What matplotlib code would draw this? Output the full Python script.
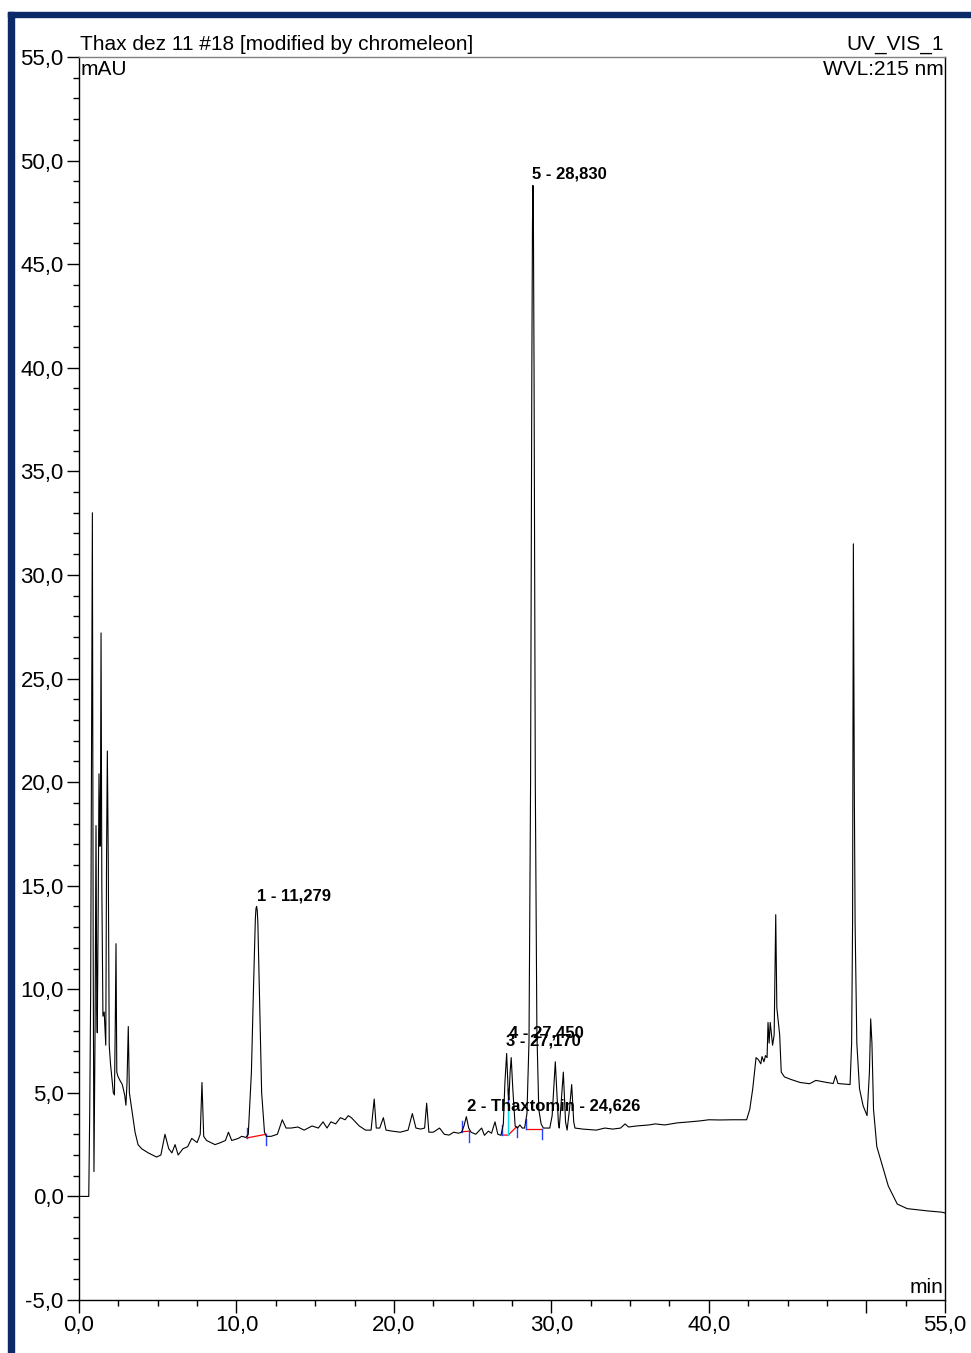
import matplotlib
matplotlib.use("Agg")
import matplotlib.pyplot as plt
from matplotlib.ticker import MultipleLocator, FixedLocator, FixedFormatter
from matplotlib.patches import Rectangle

plt.rcParams['font.family'] = ['Liberation Sans', 'DejaVu Sans']

# chromatogram trace (min, mAU)
t_start = [0.0, 0.62, 0.68, 0.74, 0.80, 0.85, 0.90, 0.95, 1.02, 1.08, 1.13, 1.16, 1.22, 1.27,
           1.33, 1.36, 1.40, 1.45, 1.52, 1.60, 1.70, 1.75, 1.80, 1.86, 1.92, 2.00, 2.10, 2.18,
           2.25, 2.30, 2.35, 2.40, 2.47, 2.60, 2.75, 2.90, 2.98, 3.05, 3.13, 3.20, 3.35, 3.56,
           3.75, 3.98, 4.40, 4.93]
y_start = [0.0, 0.0, 4.0, 9.8, 22.0, 33.0, 12.0, 1.2, 8.0, 17.9, 9.0, 7.9, 14.0, 20.4,
           16.9, 18.0, 27.2, 15.0, 8.7, 8.9, 7.3, 16.4, 21.5, 16.0, 7.3, 6.4, 5.6, 5.0,
           4.9, 8.0, 12.2, 6.0, 5.8, 5.6, 5.4, 4.9, 4.4, 5.5, 8.2, 5.0, 4.2, 3.1,
           2.5, 2.3, 2.1, 1.9]

t_early = [5.2, 5.46, 5.7, 5.9, 6.1, 6.3, 6.6, 6.9, 7.16, 7.5, 7.7, 7.81, 7.92, 8.1, 8.64,
           9.0, 9.3, 9.49, 9.7, 10.12, 10.33, 10.6,
           10.75, 10.95, 11.08, 11.2, 11.24, 11.28, 11.32, 11.36, 11.48, 11.6, 11.78, 11.9]
y_early = [2.0, 3.0, 2.3, 2.1, 2.5, 2.0, 2.3, 2.4, 2.8, 2.6, 3.0, 5.5, 2.9, 2.7, 2.5,
           2.6, 2.7, 3.1, 2.7, 2.8, 2.9, 2.85,
           3.0, 6.0, 10.0, 13.4, 13.9, 14.0, 13.8, 13.2, 9.0, 5.0, 3.1, 2.9]

t_mid = [12.2, 12.6, 12.91, 13.15, 13.47, 13.9, 14.3, 14.8, 15.2, 15.5, 15.75, 16.0, 16.3,
         16.6, 16.9, 17.1, 17.3, 17.55, 17.8, 18.2, 18.55, 18.75, 18.88, 19.1, 19.33, 19.5,
         19.9, 20.4, 20.9, 21.17, 21.4, 21.7, 21.95, 22.08, 22.22, 22.5, 22.9, 23.2, 23.5,
         23.8, 24.1, 24.3, 24.45, 24.6, 24.75, 24.9, 25.2, 25.57, 25.75, 26.0, 26.2, 26.42,
         26.6, 26.8]
y_mid = [2.9, 3.0, 3.7, 3.3, 3.3, 3.35, 3.2, 3.4, 3.3, 3.6, 3.3, 3.6, 3.5,
         3.8, 3.7, 3.9, 3.8, 3.6, 3.4, 3.2, 3.2, 4.7, 3.3, 3.3, 3.8, 3.2,
         3.15, 3.1, 3.2, 4.0, 3.3, 3.25, 3.3, 4.5, 3.1, 3.1, 3.3, 3.0, 2.96,
         3.1, 3.05, 3.1, 3.4, 3.85, 3.3, 3.1, 3.0, 3.3, 2.95, 3.15, 3.05, 3.6,
         3.0, 2.95]

t_main = [26.95, 27.05, 27.16, 27.26, 27.3, 27.38, 27.45, 27.55, 27.7, 27.85, 28.0, 28.15,
          28.3, 28.45, 28.58, 28.68, 28.76, 28.80, 28.83, 28.86, 28.9, 28.98, 29.08, 29.2,
          29.35, 29.49, 29.9, 30.05, 30.25, 30.45, 30.5, 30.62, 30.76, 30.9, 31.0, 31.15,
          31.29, 31.42, 31.5, 32.0, 32.85, 33.4, 33.9, 34.4, 34.68, 34.9, 35.4, 36.2, 36.6,
          37.2, 38.0, 38.8, 39.5, 40.0, 40.71, 41.5, 42.4]
y_main = [3.5, 5.5, 6.9, 5.0, 4.65, 6.0, 6.7, 5.2, 3.4, 3.3, 3.45, 3.3,
          3.3, 4.0, 7.5, 20.0, 40.0, 47.0, 48.8, 47.0, 40.0, 20.0, 8.0, 4.2,
          3.5, 3.3, 3.3, 3.9, 6.5, 3.5, 3.3, 4.5, 6.0, 3.6, 3.2, 4.2,
          5.4, 3.6, 3.3, 3.25, 3.2, 3.3, 3.25, 3.3, 3.5, 3.35, 3.4, 3.45, 3.5,
          3.45, 3.55, 3.6, 3.65, 3.7, 3.69, 3.7, 3.7]

t_late = [42.6, 42.79, 43.0, 43.15, 43.3, 43.38, 43.5, 43.6, 43.7, 43.76, 43.83, 43.9,
          44.05, 44.15, 44.25, 44.32, 44.5, 44.6, 44.8, 45.2, 45.8, 46.4, 46.8, 47.5,
          47.9, 48.05, 48.2, 48.97, 49.07, 49.13, 49.18, 49.24, 49.29, 49.4, 49.57, 49.8,
          50.05, 50.2, 50.28, 50.36, 50.46, 50.67, 50.99, 51.4, 51.97, 52.6, 53.9, 54.8, 55.0]
y_late = [4.2, 5.2, 6.7, 6.6, 6.4, 6.75, 6.5, 6.8, 6.7, 8.4, 7.4, 8.4,
          7.3, 7.8, 13.6, 9.1, 7.8, 6.0, 5.77, 5.65, 5.5, 5.44, 5.6, 5.5,
          5.45, 5.83, 5.45, 5.4, 7.4, 13.2, 31.5, 19.7, 13.2, 7.4, 5.2, 4.37,
          3.9, 6.0, 8.57, 7.4, 4.2, 2.4, 1.56, 0.5, -0.37, -0.59, -0.7, -0.76, -0.8]

# peak labels
peak_names = ['1 - 11,279', '2 - Thaxtomin - 24,626', '3 - 27,170', '4 - 27,450', '5 - 28,830']
peak_lx = [11.3, 24.64, 27.14, 27.3, 28.77]
peak_ly = [14.15, 4.0, 7.15, 7.55, 49.0]

# integration baselines (start t, start y, end t, end y)
base_t0 = [10.65, 24.3, 26.89, 28.39]
base_y0 = [2.82, 3.12, 2.96, 3.25]
base_t1 = [11.88, 24.79, 27.8, 29.39]
base_y1 = [3.0, 3.15, 3.37, 3.25]
split_t = 27.26
split_y = [2.96, 5.2]

trace_t = t_start + t_early + t_mid + t_main + t_late
trace_y = y_start + y_early + y_mid + y_main + y_late

fig = plt.figure(figsize=(9.71, 13.53), dpi=100)
ax = fig.add_axes([79 / 971, 1 - 1300 / 1353, (945 - 79) / 971, (1300 - 57) / 1353])

# blue frame on the left and top
fig.patches.append(Rectangle((8 / 971, 0), 6 / 971, 1 - 12 / 1353, transform=fig.transFigure,
                             color='#0c2a68', zorder=0))
fig.patches.append(Rectangle((8 / 971, 1 - 17 / 1353), 1 - 8 / 971, 5 / 1353,
                             transform=fig.transFigure, color='#0c2a68', zorder=0))

ax.plot(trace_t, trace_y, color='black', lw=0.8, zorder=3)

# integration marks
mark = 0.5
for k in range(len(base_t0)):
    if k == 2:
        ax.plot([base_t0[k], split_t, base_t1[k]], [base_y0[k], base_y0[k], base_y1[k]],
                color='red', lw=0.9, zorder=2)
    else:
        ax.plot([base_t0[k], base_t1[k]], [base_y0[k], base_y1[k]], color='red', lw=0.9, zorder=2)
    ax.plot([base_t0[k], base_t0[k]], [base_y0[k], base_y0[k] + mark], color='#2840ff', lw=1.0, zorder=2)
    ax.plot([base_t1[k], base_t1[k]], [base_y1[k], base_y1[k] - mark], color='#2840ff', lw=1.0, zorder=2)
ax.plot([split_t, split_t], split_y, color='#00e0e8', lw=1.0, zorder=2)
ax.plot([split_t, split_t], [split_y[1] - 0.8, split_y[1]], color='#2840ff', lw=1.0, zorder=2)

for name, lx, ly in zip(peak_names, peak_lx, peak_ly):
    ax.text(lx, ly, name, ha='left', va='bottom', fontsize=12, fontweight='bold', zorder=4)

ax.set_xlim(0, 55)
ax.set_ylim(-5, 55)

xt = [0, 10, 20, 30, 40, 50, 55]
xl = ['0,0', '10,0', '20,0', '30,0', '40,0', '', '55,0']
ax.xaxis.set_major_locator(FixedLocator(xt))
ax.xaxis.set_major_formatter(FixedFormatter(xl))
ax.xaxis.set_minor_locator(MultipleLocator(2.5))
yt = list(range(-5, 56, 5))
ax.yaxis.set_major_locator(FixedLocator(yt))
ax.yaxis.set_major_formatter(FixedFormatter(['%d,0' % v for v in yt]))
ax.yaxis.set_minor_locator(MultipleLocator(1))

ax.tick_params(which='major', direction='out', length=9, width=1, labelsize=16, pad=2, colors='black')
ax.tick_params(which='minor', direction='out', length=4.5, width=1)

ax.spines['top'].set_color('#808080')
for s in ['left', 'bottom', 'right']:
    ax.spines[s].set_color('black')
for s in ax.spines.values():
    s.set_linewidth(1.0)

ax.annotate('Thax dez 11 #18 [modified by chromeleon]', xy=(0, 1), xycoords='axes fraction',
            xytext=(1, 2), textcoords='offset points', ha='left', va='bottom', fontsize=15)
ax.annotate('UV_VIS_1', xy=(1, 1), xycoords='axes fraction', xytext=(-1, 2),
            textcoords='offset points', ha='right', va='bottom', fontsize=15)
ax.annotate('mAU', xy=(0, 1), xycoords='axes fraction', xytext=(1, -2),
            textcoords='offset points', ha='left', va='top', fontsize=15)
ax.annotate('WVL:215 nm', xy=(1, 1), xycoords='axes fraction', xytext=(-1, -2),
            textcoords='offset points', ha='right', va='top', fontsize=15)
ax.annotate('min', xy=(1, 0), xycoords='axes fraction', xytext=(-1, 2),
            textcoords='offset points', ha='right', va='bottom', fontsize=15)

fig.savefig('out.png', dpi=100)
